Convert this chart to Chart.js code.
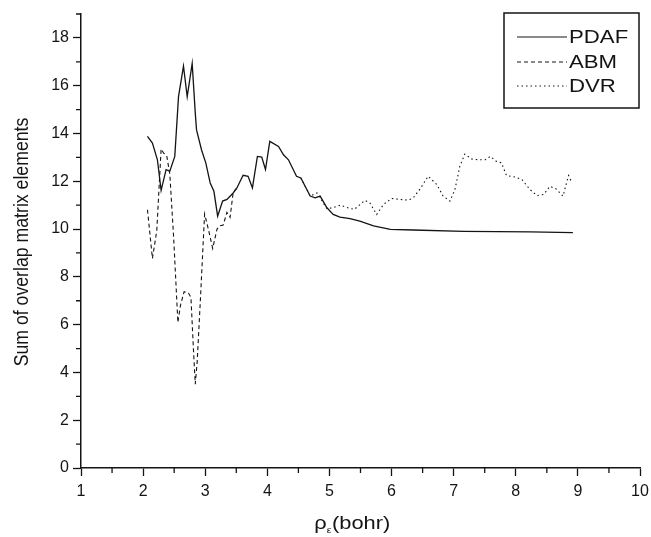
<!DOCTYPE html>
<html>
<head>
<meta charset="utf-8">
<script src="https://cdn.jsdelivr.net/npm/chart.js@4.4.1/dist/chart.umd.min.js"></script>
<style>
html,body{margin:0;padding:0;background:#fff;}
</style>
</head>
<body>
<canvas id="overlapChart" width="651" height="537"></canvas>
<script>
// values
const pdafX = [2.07,2.15,2.23,2.29,2.37,2.43,2.51,2.57,2.65,2.71,2.79,2.84,2.86,2.94,3.01,3.08,3.14,3.20,3.28,3.35,3.45,3.51,3.61,3.69,3.76,3.84,3.91,3.97,4.04,4.18,4.26,4.34,4.47,4.54,4.69,4.77,4.85,4.96,5.06,5.17,5.33,5.49,5.71,5.98,6.35,7.16,8.23,8.92];
const pdafY = [13.88,13.6,12.9,11.62,12.49,12.42,13.04,15.54,16.82,15.54,16.93,14.85,14.15,13.32,12.76,11.93,11.58,10.54,11.17,11.24,11.51,11.72,12.25,12.21,11.72,13.04,13.01,12.49,13.67,13.46,13.11,12.9,12.21,12.14,11.38,11.31,11.38,10.89,10.61,10.5,10.44,10.33,10.13,9.99,9.96,9.9,9.88,9.85];

const abmX = [2.07,2.15,2.22,2.29,2.33,2.38,2.43,2.49,2.56,2.60,2.66,2.73,2.77,2.81,2.84,2.87,2.92,2.99,3.05,3.12,3.19,3.24,3.29,3.35,3.40,3.45,3.51];
const abmY = [10.81,8.77,9.93,13.35,13.18,13.07,12.3,9.72,6.09,6.79,7.38,7.32,7.14,4.98,3.51,4.42,6.93,10.63,10.0,9.19,10.0,10.14,10.17,10.7,10.49,11.53,11.72];

const dvrX = [4.54,4.69,4.80,4.96,5.06,5.18,5.28,5.40,5.57,5.65,5.76,5.87,6.00,6.14,6.27,6.35,6.46,6.59,6.73,6.83,6.94,7.02,7.10,7.18,7.29,7.40,7.51,7.59,7.69,7.77,7.85,7.99,8.10,8.23,8.34,8.45,8.55,8.65,8.76,8.85,8.90];
const dvrY = [12.14,11.38,11.51,10.85,10.9,11.0,10.9,10.82,11.2,11.1,10.61,11.03,11.28,11.24,11.21,11.31,11.68,12.21,11.86,11.38,11.17,11.65,12.63,13.14,12.93,12.9,12.9,13.04,12.83,12.77,12.24,12.18,12.07,11.65,11.4,11.45,11.79,11.68,11.38,12.24,11.96];

const xTicks = [1,2,3,4,5,6,7,8,9,10];
const yTicks = [0,2,4,6,8,10,12,14,16,18];
const xMinor = [1.5,2.5,3.5,4.5,5.5,6.5,7.5,8.5,9.5];
const yMinor = [1,3,5,7,9,11,13,15,17,19];

function toPoints(xs, ys) {
    return xs.map((x, i) => ({x: x, y: ys[i]}));
}

const ink = '#141414';
const fontName = '"Liberation Sans", Arial, sans-serif';

const decor = {
    id: 'decor',
    afterDraw(chart) {
        const ctx = chart.ctx;
        const xs = chart.scales.x, ys = chart.scales.y;
        const area = chart.chartArea;
        ctx.save();
        ctx.strokeStyle = ink;
        ctx.lineWidth = 1.3;
        // minor ticks
        ctx.beginPath();
        xMinor.forEach(v => {
            const px = xs.getPixelForValue(v);
            ctx.moveTo(px, area.bottom);
            ctx.lineTo(px, area.bottom + 5);
        });
        yMinor.forEach(v => {
            const py = ys.getPixelForValue(v);
            ctx.moveTo(area.left - 5, py);
            ctx.lineTo(area.left, py);
        });
        ctx.stroke();

        ctx.fillStyle = ink;
        // y title
        ctx.save();
        ctx.translate(28, 242);
        ctx.rotate(-Math.PI / 2);
        ctx.scale(1, 1.12);
        ctx.font = '17.7px ' + fontName;
        ctx.textAlign = 'center';
        ctx.textBaseline = 'alphabetic';
        ctx.fillText('Sum of overlap matrix elements', 0, 0);
        ctx.restore();

        // x title with subscript
        ctx.save();
        ctx.translate(352, 529);
        ctx.scale(1.15, 1);
        ctx.textBaseline = 'alphabetic';
        ctx.textAlign = 'left';
        ctx.font = '19px ' + fontName;
        const w1 = ctx.measureText('ρ').width;
        const w3 = ctx.measureText('(bohr)').width;
        ctx.font = '9px ' + fontName;
        const w2 = ctx.measureText('ε').width;
        let x = -(w1 + w2 + w3) / 2;
        ctx.font = '19px ' + fontName;
        ctx.fillText('ρ', x, 0);
        x += w1;
        ctx.font = '9px ' + fontName;
        ctx.fillText('ε', x, 4);
        x += w2 + 0.5;
        ctx.font = '19px ' + fontName;
        ctx.fillText('(bohr)', x, 0);
        ctx.restore();

        // legend box
        ctx.lineWidth = 1.5;
        ctx.strokeRect(504, 13, 135, 95);
        const rows = [37, 62, 86];
        chart.data.datasets.forEach((ds, i) => {
            ctx.save();
            ctx.lineWidth = 1;
            ctx.setLineDash(ds.borderDash || []);
            ctx.beginPath();
            ctx.moveTo(517, rows[i]);
            ctx.lineTo(567, rows[i]);
            ctx.stroke();
            ctx.restore();
            ctx.save();
            ctx.translate(569, rows[i]);
            ctx.scale(1.2, 1);
            ctx.font = '18.5px ' + fontName;
            ctx.textBaseline = 'middle';
            ctx.fillText(ds.label, 0, 1);
            ctx.restore();
        });
        ctx.restore();
    }
};

new Chart(document.getElementById('overlapChart'), {
    type: 'line',
    data: {
        datasets: [{
            label: 'PDAF',
            data: toPoints(pdafX, pdafY),
            borderColor: ink,
            borderWidth: 1.3,
            borderDash: []
        }, {
            label: 'ABM',
            data: toPoints(abmX, abmY),
            borderColor: ink,
            borderWidth: 1.1,
            borderDash: [4, 3]
        }, {
            label: 'DVR',
            data: toPoints(dvrX, dvrY),
            borderColor: ink,
            borderWidth: 1.1,
            borderDash: [1.5, 3]
        }]
    },
    options: {
        responsive: false,
        animation: false,
        devicePixelRatio: 1,
        layout: {padding: {left: 0, right: 11, top: 14, bottom: 0}},
        elements: {point: {radius: 0}, line: {tension: 0, fill: false}},
        plugins: {legend: {display: false}, tooltip: {enabled: false}, title: {display: false}},
        scales: {
            x: {
                type: 'linear',
                min: 1, max: 10,
                afterBuildTicks: s => { s.ticks = xTicks.map(v => ({value: v})); },
                afterFit: s => { s.height = 69; s.paddingLeft = 0; s.paddingRight = 0; },
                border: {color: ink, width: 1.5},
                grid: {drawOnChartArea: false, drawTicks: true, tickLength: 8, tickWidth: 1.3, tickColor: ink},
                ticks: {color: ink, font: {family: fontName, size: 16}, padding: 6, maxRotation: 0}
            },
            y: {
                min: 0, max: 19,
                afterBuildTicks: s => { s.ticks = yTicks.map(v => ({value: v})); },
                afterFit: s => { s.width = 81; s.paddingTop = 0; s.paddingBottom = 0; },
                border: {color: ink, width: 1.5},
                grid: {drawOnChartArea: false, drawTicks: true, tickLength: 8, tickWidth: 1.3, tickColor: ink},
                ticks: {color: ink, font: {family: fontName, size: 16}, padding: 4}
            }
        }
    },
    plugins: [decor]
});
</script>
</body>
</html>
